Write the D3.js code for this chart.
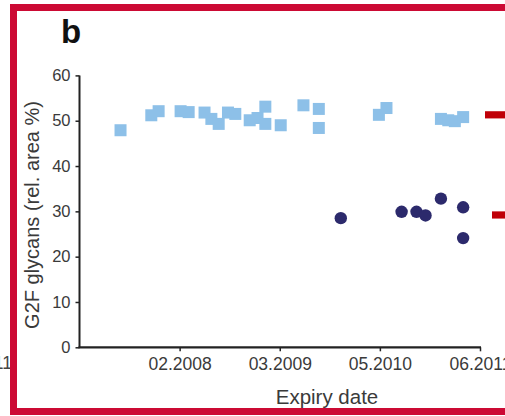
<!DOCTYPE html>
<html>
<head>
<meta charset="utf-8">
<script src="https://cdn.jsdelivr.net/npm/d3@7/dist/d3.min.js"></script>
<style>
  html, body { margin: 0; padding: 0; background: #fff; }
  svg { display: block; font-family: "Liberation Sans", Arial, Helvetica, sans-serif; }
</style>
</head>
<body>
<svg id="chart" width="505" height="416"></svg>
<script>
// ---- data ----
const squareDates = ["2007-06-18","2007-10-22","2007-11-21","2008-02-19","2008-03-23","2008-05-27",
  "2008-06-24","2008-07-24","2008-08-31","2008-09-30","2008-11-28","2008-12-30","2009-01-31",
  "2009-01-31","2009-04-04","2009-07-06","2009-09-07","2009-09-07","2010-05-11","2010-06-11",
  "2011-01-20","2011-02-19","2011-03-18","2011-04-21"];
const squareValues = [47.9,51.2,52.1,52.1,51.9,51.8,50.4,49.3,51.8,51.5,50.1,50.6,53.1,49.3,49.0,
  53.4,52.6,48.4,51.3,52.8,50.4,50.1,49.9,50.8];
const circleDates = ["2009-12-06","2010-08-12","2010-10-12","2010-11-18","2011-01-20","2011-04-21","2011-04-21"];
const circleValues = [28.5,29.9,29.9,29.1,32.8,30.9,24.1];
const meanValues = [51.3, 29.2];
const xTickDates = ["2008-02-15","2009-03-31","2010-05-15","2011-06-29"];
const xTickLabels = ["02.2008","03.2009","05.2010","06.2011"];
const yTicks = [0,10,20,30,40,50,60];
const xDomain = ["2007-01-01","2011-06-29"];

// ---- drawing ----
const parse = d3.utcParse("%Y-%m-%d");
const svg = d3.select("#chart");

const x = d3.scaleUtc().domain(xDomain.map(parse)).range([79.5, 480]);
const y = d3.scaleLinear().domain([0, 60]).range([347.3, 75.4]);

// left-over label of neighbouring panel
svg.append("text").attr("x", 12).attr("y", 369).attr("text-anchor", "end")
  .attr("font-size", 17.5).attr("fill", "#444").text("06.2011");

// panel label
svg.append("text").attr("x", 61).attr("y", 43).attr("font-size", 33)
  .attr("font-weight", "bold").attr("fill", "#111").text("b");

// y axis
const yAxis = d3.axisLeft(y).tickValues(yTicks).tickSize(4).tickPadding(5);
const gy = svg.append("g").attr("transform", "translate(79.5,0)").call(yAxis);
gy.select(".domain").attr("d", `M0,${y(60)}V${y(0)}`).attr("stroke", "#222").attr("stroke-width", 2);
gy.selectAll(".tick line").attr("stroke", "#222").attr("stroke-width", 1.5);
gy.selectAll(".tick text").attr("font-size", 16.5).attr("fill", "#3a3a3a")
  .attr("font-family", "Liberation Sans, Arial, sans-serif");

// x axis
const xAxis = d3.axisBottom(x).tickValues(xTickDates.map(parse))
  .tickFormat((d, i) => xTickLabels[i]).tickSize(4).tickPadding(6);
const gx = svg.append("g").attr("transform", `translate(0,${y(0)})`).call(xAxis);
gx.select(".domain").attr("d", `M78.5,0H${x(parse(xDomain[1]))+1}`).attr("stroke", "#222").attr("stroke-width", 2.2);
gx.selectAll(".tick line").attr("stroke", "#222").attr("stroke-width", 1.5);
gx.selectAll(".tick text").attr("font-size", 17.5).attr("fill", "#3a3a3a")
  .attr("font-family", "Liberation Sans, Arial, sans-serif");

// axis titles
svg.append("text").attr("transform", "translate(32,215) rotate(-90)")
  .attr("text-anchor", "middle").attr("dominant-baseline", "central")
  .attr("font-size", 20).attr("fill", "#3a3a3a").text("G2F glycans (rel. area %)");
svg.append("text").attr("x", 327).attr("y", 404).attr("text-anchor", "middle")
  .attr("font-size", 20.5).attr("fill", "#3a3a3a").text("Expiry date");

// squares
const sq = 12;
svg.append("g").selectAll("rect").data(squareDates.map((d, i) => ({d: parse(d), v: squareValues[i]})))
  .join("rect")
  .attr("x", p => x(p.d) - sq / 2).attr("y", p => y(p.v) - sq / 2)
  .attr("width", sq).attr("height", sq).attr("fill", "#8dc0e8");

// circles
svg.append("g").selectAll("circle").data(circleDates.map((d, i) => ({d: parse(d), v: circleValues[i]})))
  .join("circle")
  .attr("cx", p => x(p.d)).attr("cy", p => y(p.v)).attr("r", 6.2).attr("fill", "#2c2a6c");

// mean markers (clipped at right edge)
const meanX = [485, 492];
svg.append("g").selectAll("rect").data(meanValues).join("rect")
  .attr("x", (d, i) => meanX[i]).attr("y", d => y(d) - 3.6)
  .attr("width", 30).attr("height", 7.2).attr("fill", "#c00008");

// red frame
svg.append("rect").attr("x", 13.5).attr("y", 7.5).attr("width", 700).attr("height", 404)
  .attr("fill", "none").attr("stroke", "#cc0a34").attr("stroke-width", 7);
</script>
</body>
</html>
